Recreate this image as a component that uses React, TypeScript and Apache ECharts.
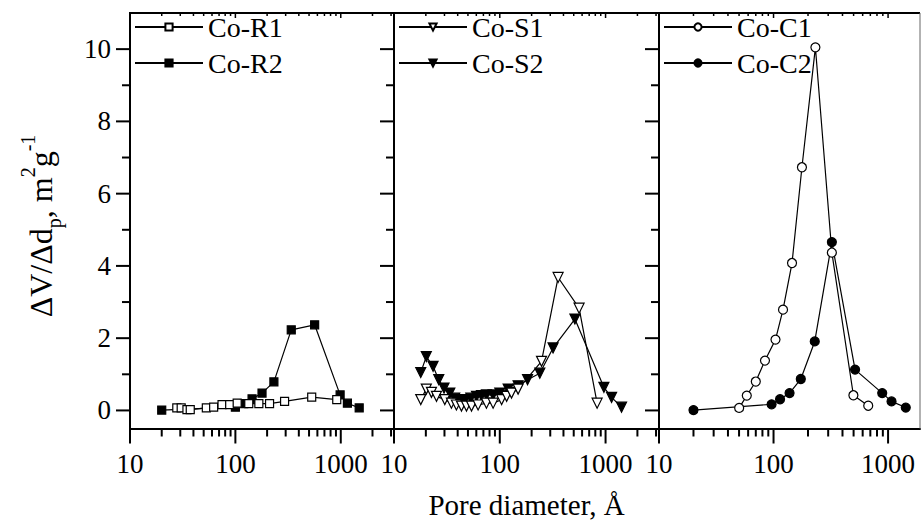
import React, { useEffect, useRef } from "react";
import * as echarts from "echarts";

const FONT = "'Liberation Serif', 'Times New Roman', serif";

// axis ranges and ticks
const xMin = 10;
const xMax = [3200, 3200, 1900];
const yMin = -0.5;
const yMax = 11;
const xMajorTicks = [10, 100, 1000];
const xTickLabels = ["10", "100", "1000"];
const xMinorTicks = [20, 30, 40, 50, 60, 70, 80, 90, 200, 300, 400, 500, 600, 700, 800, 900, 2000, 3000];
const yMajorTicks = [0, 2, 4, 6, 8, 10];
const yTickLabels = ["0", "2", "4", "6", "8", "10"];
const yMinorTicks = [1, 3, 5, 7, 9];

// Panel 1
const coR1D = [27.8, 30.6, 34.7, 37.3, 53, 62.2, 74.7, 88.3, 104, 134, 167, 211, 293, 530, 916];
const coR1V = [0.07, 0.07, 0.02, 0.02, 0.07, 0.09, 0.16, 0.16, 0.2, 0.19, 0.19, 0.19, 0.25, 0.37, 0.3];
const coR2D = [20, 100, 120, 144, 179, 232, 339, 565, 986, 1156, 1496];
const coR2V = [0.01, 0.09, 0.19, 0.32, 0.48, 0.79, 2.23, 2.37, 0.43, 0.2, 0.07];
// Panel 2
const coS1D = [17.9, 20.2, 22.6, 25.2, 30.2, 34.9, 38.9, 43.4, 48.4, 54, 62.4, 74.8, 86.5, 104, 116, 129, 149, 248, 356, 562, 832];
const coS1V = [0.3, 0.59, 0.5, 0.39, 0.3, 0.2, 0.15, 0.12, 0.12, 0.12, 0.15, 0.2, 0.2, 0.3, 0.39, 0.48, 0.59, 1.36, 3.68, 2.83, 0.2];
const coS2D = [17.9, 20.2, 23.4, 26.5, 29.7, 33.7, 37.5, 41.9, 46.7, 53.2, 60.2, 67.1, 74.8, 86.5, 100, 120, 149, 183, 239, 319, 513, 964, 1140, 1416];
const coS2V = [1.05, 1.49, 1.22, 0.85, 0.62, 0.48, 0.34, 0.3, 0.3, 0.34, 0.39, 0.41, 0.43, 0.43, 0.48, 0.59, 0.68, 0.85, 1.03, 1.73, 2.53, 0.64, 0.36, 0.09];
// Panel 3
const coC1D = [50.1, 58.4, 70, 84.2, 104, 121, 145, 177, 232, 323, 498, 671];
const coC1V = [0.07, 0.41, 0.8, 1.38, 1.96, 2.79, 4.08, 6.73, 10.05, 4.37, 0.42, 0.13];
const coC2D = [20, 96.2, 114, 138, 173, 229, 323, 515, 889, 1072, 1427];
const coC2V = [0.01, 0.17, 0.31, 0.48, 0.87, 1.91, 4.66, 1.13, 0.48, 0.25, 0.08];

const legendNames = [["Co-R1", "Co-R2"], ["Co-S1", "Co-S2"], ["Co-C1", "Co-C2"]];
const xTitle = "Pore diameter, Å";

const zip = (xs: number[], ys: number[]) => xs.map((x, k) => [x, ys[k]]);

function mk(name: string, xs: number[], ys: number[], gi: number, symbol: string, filled: boolean, size: number, rotate = 0) {
  return {
    type: "line",
    name,
    xAxisIndex: gi,
    yAxisIndex: gi,
    data: zip(xs, ys),
    symbol,
    symbolSize: size,
    symbolRotate: rotate,
    showSymbol: true,
    lineStyle: { color: "#000", width: 1.2 },
    itemStyle: { color: filled ? "#000" : "#fff", borderColor: "#000", borderWidth: 1.2 },
    emphasis: { disabled: true },
    z: filled ? 3 : 4,
  };
}

const fmtX = (v: number) => {
  const e = Math.log10(v);
  const r = Math.round(e);
  if (Math.abs(e - r) < 1e-6) {
    const idx = xMajorTicks.indexOf(Math.pow(10, r));
    return idx >= 0 ? xTickLabels[idx] : "";
  }
  return "";
};
const fmtY = (v: number) => {
  const r = Math.round(v * 1000) / 1000;
  const idx = yMajorTicks.indexOf(r);
  return idx >= 0 ? yTickLabels[idx] : "";
};

export default function App() {
  const ref = useRef<HTMLDivElement>(null);
  useEffect(() => {
    const chart = echarts.init(ref.current!, null, { renderer: "svg" });
    const gridGeom = [
      { left: 130, width: 264 },
      { left: 394, width: 265 },
      { left: 659, width: 263 },
    ].map((g) => ({ ...g, top: 13, height: 415.5 }));
    const legendLeft = [134, 398, 663];

    const option: any = {
      animation: false,
      backgroundColor: "#fff",
      grid: gridGeom,
      xAxis: [0, 1, 2].map((i) => ({
        gridIndex: i,
        type: "log",
        logBase: 10,
        min: xMin,
        max: xMax[i],
        axisLine: { show: true, onZero: false, lineStyle: { color: "#000", width: 2 } },
        axisTick: { show: false },
        minorTick: { show: false },
        splitLine: { show: false },
        minorSplitLine: { show: false },
        axisLabel: { color: "#000", fontFamily: FONT, fontSize: 27, margin: 22, formatter: fmtX },
        name: i === 1 ? xTitle : "",
        nameLocation: "middle",
        nameGap: 62,
        nameTextStyle: { fontFamily: FONT, fontSize: 29, color: "#000" },
      })),
      yAxis: [0, 1, 2].map((i) => ({
        gridIndex: i,
        type: "value",
        min: yMin,
        max: yMax,
        interval: 0.5,
        axisLine: { show: true, onZero: false, lineStyle: { color: "#000", width: 2 } },
        axisTick: { show: false },
        splitLine: { show: false },
        axisLabel: { show: i === 0, formatter: fmtY, color: "#000", fontFamily: FONT, fontSize: 27, margin: 19 },
      })),
      legend: [0, 1, 2].map((i) => ({
        data: legendNames[i],
        orient: "vertical",
        left: legendLeft[i],
        top: 13,
        padding: 0,
        itemWidth: 68,
        itemHeight: 9,
        itemGap: 8,
        selectedMode: false,
        textStyle: { fontFamily: FONT, fontSize: 28, color: "#000" },
      })),
      series: [
        mk("Co-R1", coR1D, coR1V, 0, "rect", false, 8),
        mk("Co-R2", coR2D, coR2V, 0, "rect", true, 8),
        mk("Co-S1", coS1D, coS1V, 1, "triangle", false, 10, 180),
        mk("Co-S2", coS2D, coS2V, 1, "triangle", true, 10, 180),
        mk("Co-C1", coC1D, coC1V, 2, "circle", false, 9),
        mk("Co-C2", coC2D, coC2V, 2, "circle", true, 9),
      ],
    };
    chart.setOption(option);

    const gfx: any[] = [];
    const line = (x1: number, y1: number, x2: number, y2: number, w = 2, c = "#000") =>
      gfx.push({ type: "line", silent: true, z: 10, shape: { x1, y1, x2, y2 }, style: { stroke: c, lineWidth: w } });

    let topLeft = 0;
    let topRight = 0;
    let yTop = 0;
    let yBot = 0;
    for (let i = 0; i < 3; i++) {
      const xp = (v: number) => chart.convertToPixel({ xAxisIndex: i } as any, v) as number;
      const yp = (v: number) => chart.convertToPixel({ yAxisIndex: i } as any, v) as number;
      const x0 = xp(xMin);
      yBot = yp(yMin);
      yTop = yp(yMax);
      if (i === 0) topLeft = x0;
      if (i === 2) topRight = xp(xMax[i]);
      yMajorTicks.forEach((v) => line(x0 - 14, yp(v), x0, yp(v)));
      yMinorTicks.forEach((v) => line(x0 - 8, yp(v), x0, yp(v)));
      xMajorTicks.filter((v) => v <= xMax[i]).forEach((v) => {
        line(xp(v), yBot, xp(v), yBot + 15);
        line(xp(v), yTop, xp(v), yTop + 5, 1.5);
      });
      xMinorTicks.filter((v) => v < xMax[i]).forEach((v) => {
        line(xp(v), yBot, xp(v), yBot + 8);
        line(xp(v), yTop, xp(v), yTop + 3, 1.5);
      });
    }
    line(topLeft - 1, yTop, topRight, yTop, 2);
    line(topRight, yTop, topRight, yBot, 1, "#666");

    gfx.push({
      type: "text",
      x: 41,
      y: 226,
      rotation: Math.PI / 2,
      silent: true,
      style: {
        text: "ΔV/Δd{sub|p}, m{sup|2}g{sup|-1}",
        fontFamily: FONT,
        fontSize: 32,
        lineHeight: 46,
        fill: "#000",
        align: "center",
        verticalAlign: "middle",
        rich: {
          sub: { fontFamily: FONT, fontSize: 20, lineHeight: 20, verticalAlign: "bottom", fill: "#000" },
          sup: { fontFamily: FONT, fontSize: 20, lineHeight: 20, verticalAlign: "top", fill: "#000" },
        },
      },
    });

    chart.setOption({ graphic: gfx });
    return () => chart.dispose();
  }, []);
  return (
    <div
      ref={ref}
      style={{ position: "fixed", left: 0, top: 0, width: 923, height: 526, background: "#fff" }}
    />
  );
}
